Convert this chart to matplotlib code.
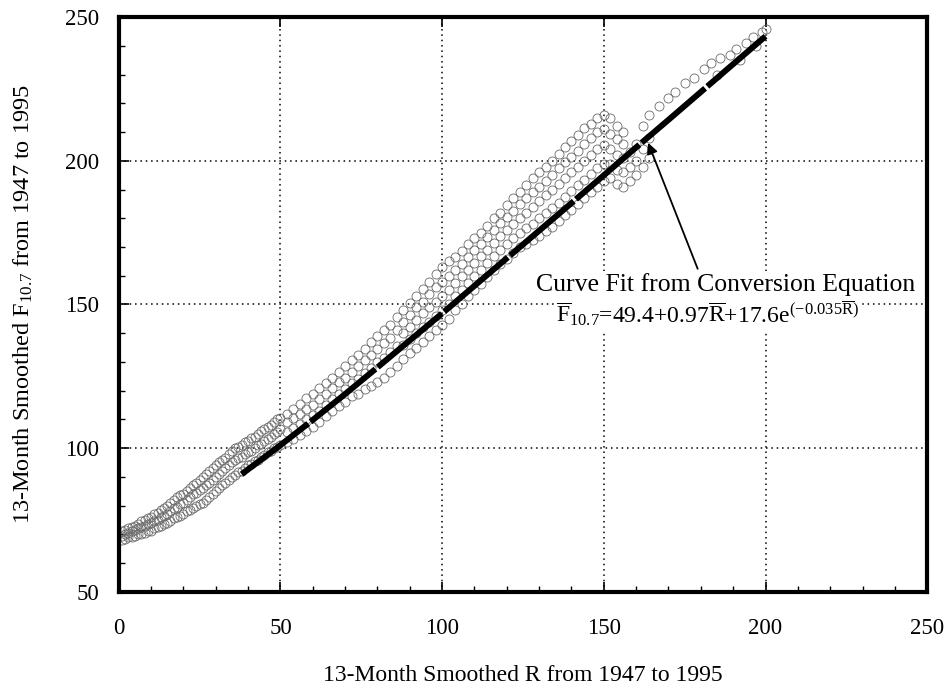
import matplotlib
matplotlib.use("Agg")
import matplotlib.pyplot as plt
from matplotlib.ticker import MultipleLocator

plt.rcParams["font.family"] = ["Liberation Serif", "DejaVu Serif"]
plt.rcParams["mathtext.fontset"] = "custom"
plt.rcParams["mathtext.rm"] = "Liberation Serif"
plt.rcParams["mathtext.it"] = "Liberation Serif:italic"

# observed 13-month smoothed values (R, F10.7), read off the picture as a band of points
# low activity part, R 1..50: lower / middle / upper edge of the band
R_low = list(range(1, 51))
F_low_lo = [68, 68.5, 69, 69, 69.5, 70, 70, 70.5, 71, 71, 72, 72.5, 73, 73.5, 74, 74.5, 75.5, 76, 76.5, 77,
            78, 78.5, 79, 80, 80.5, 81, 82, 83, 84, 85, 86, 87, 88, 89, 90, 90.5, 91.5, 92, 93, 94,
            94.5, 95.5, 96, 97, 97.5, 98.5, 99, 100, 100.5, 101]
F_low_md = [69.5, 70, 70.5, 71, 71.5, 72, 72.5, 73, 73.5, 74, 74.5, 75, 76, 76.5, 77, 78, 79, 79.5, 80.5, 81,
            82, 83, 84, 84.5, 85.5, 86, 87, 88, 89, 90, 91, 92, 93, 94, 95, 96, 96.5, 97, 98, 98.5,
            99, 100, 101, 101.5, 102.5, 103, 104, 105, 105.5, 106.5]
F_low_hi = [71, 71.5, 72, 72.5, 73, 73.5, 74.5, 75, 75.5, 76, 77, 77.5, 78.5, 79, 80, 81, 82, 83, 83.5, 84,
            85, 86, 87, 88, 89, 90, 91, 92, 93, 94, 95, 96, 96.5, 98, 99, 100, 100.5, 101, 102, 102.5,
            103.5, 104, 105, 106, 106.5, 107.5, 108, 109, 110, 110.5]

# rising part, R 52..86
R_mid = [52, 54, 56, 58, 60, 62, 64, 66, 68, 70, 72, 74, 76, 78, 80, 82, 84, 86]
F_mid_1 = [102, 103, 104.5, 106, 107.5, 109, 111, 113, 114.5, 116, 118, 119, 120.5, 121.5, 123, 124.5, 126.5, 128.5]
F_mid_2 = [105.5, 107, 108.5, 110, 111.5, 113, 115, 117, 119, 120.5, 122.5, 124, 126, 128, 130, 131.5, 133.5, 135.5]
F_mid_3 = [109, 110.5, 112, 113.5, 115, 117, 119, 121, 123, 124.5, 126.5, 128.5, 130.5, 132.5, 134.5, 136.5, 138.5, 141]
F_mid_4 = [112, 113.5, 115.5, 117.5, 119, 121, 122.5, 124.5, 126.5, 128.5, 130.5, 132.5, 134.5, 137, 139, 141, 143, 145.5]

# high activity part, R 88..156
R_high = [88, 90, 92, 94, 96, 98, 100, 102, 104, 106, 108, 110, 112, 114, 116, 118, 120, 122,
          124, 126, 128, 130, 132, 134, 136, 138, 140, 142, 144, 146, 148, 150, 152, 154, 156]
F_high_1 = [131, 133, 135, 137, 139, 141, 143, 145, 148, 150, 153, 155, 157, 159.5, 162, 164, 166, 168,
            170, 171, 172.5, 174, 175.5, 177, 179, 181, 183, 185, 187, 189, 191, 193, 194, 192, 191]
F_high_2 = [136, 138, 140, 142, 144, 146, 148, 150, 153, 155, 157.5, 160, 162, 164.5, 167, 169, 171, 173,
            175, 176.5, 178, 180, 182, 183.5, 185.5, 187.5, 189.5, 191.5, 193.5, 195.5, 197.5, 199, 199, 197, 196]
F_high_3 = [140, 142, 144.5, 147, 149, 151, 153, 155, 157.5, 160, 162, 164.5, 167, 169, 171.5, 174, 176, 178,
            180, 182, 184, 186, 188, 190, 192, 194, 196, 198, 200, 202, 204, 205.5, 204, 202, 201]
F_high_4 = [144, 146.5, 149, 151, 153.5, 156, 158, 160, 162, 164, 166.5, 169, 171, 173.5, 176, 178.5, 180.5, 182.5,
            185, 187, 189, 191, 193, 195, 197.5, 199.5, 201.5, 203.5, 206, 208, 210, 211, 209.5, 207.5, 206]
F_high_5 = [148, 150.5, 153, 155.5, 158, 160.5, 163, 165, 166.5, 168.5, 171, 173, 175, 177.5, 180, 182, 184.5, 187,
            189, 191.5, 194, 196, 198, 200, 202.5, 205, 207, 209, 211.5, 213, 215, 216, 215, 212, 210]

# sparse points near the top of the cycle maxima
R_top = [158, 158, 158, 160, 160, 160, 162, 162, 162, 164, 164, 164,
         167, 170, 172, 175, 178, 181, 183, 185, 186, 189, 191, 192, 194, 196, 197, 199, 200]
F_top = [193, 198, 203, 195, 200, 206, 198, 204, 212, 201, 208, 216,
         219, 222, 224, 227, 229, 232, 234, 230, 236, 237, 239, 235, 241, 243, 240, 245, 246]

# curve fit (conversion equation)
R_fit = [38, 50, 60, 70, 80, 90, 100, 110, 120, 130, 140, 150, 160, 170, 180, 190, 200]
F_fit = [90.9, 101.0, 109.8, 118.8, 128.1, 137.5, 146.9, 156.5, 166.1, 175.7, 185.3,
         195.0, 204.7, 214.3, 224.0, 233.7, 243.4]

fig = plt.figure(figsize=(9.5, 6.92), dpi=100)
ax = fig.add_axes([0.125, 0.145, 0.851, 0.83])

pts_R, pts_F = [], []
for Fs in (F_low_lo, F_low_md, F_low_hi):
    pts_R += R_low; pts_F += Fs
for Fs in (F_mid_1, F_mid_2, F_mid_3, F_mid_4):
    pts_R += R_mid; pts_F += Fs
for Fs in (F_high_1, F_high_2, F_high_3, F_high_4, F_high_5):
    pts_R += R_high; pts_F += Fs
pts_R += R_top; pts_F += F_top

ax.plot(pts_R, pts_F, ls="none", marker="o", ms=6.5, mfc="none", mec="#6a6a6a", mew=0.6, zorder=2)
ax.plot(R_fit, F_fit, color="black", lw=4.3, ls=(0, (14, 0.5)), zorder=3)

ax.set_xlim(0, 250)
ax.set_ylim(50, 250)
ax.xaxis.set_major_locator(MultipleLocator(50))
ax.yaxis.set_major_locator(MultipleLocator(50))
ax.xaxis.set_minor_locator(MultipleLocator(10))
ax.yaxis.set_minor_locator(MultipleLocator(10))
ax.tick_params(which="both", direction="in", top=True, right=False, color="black")
ax.tick_params(which="major", length=7, width=1.2, labelsize=16.5)
ax.tick_params(which="minor", length=4, width=1.0)
ax.tick_params(axis="y", which="both", right=False, pad=14)
ax.tick_params(axis="x", which="both", pad=19)
ax.tick_params(axis="x", which="minor", top=False)
ax.grid(which="major", color="black", ls=(0, (1, 2.5)), lw=1.1)
for s in ax.spines.values():
    s.set_linewidth(3)

ax.set_xlabel("13-Month Smoothed R from 1947 to 1995", fontsize=17, labelpad=19)
ax.set_ylabel(r"13-Month Smoothed F$_{10.7}$ from 1947 to 1995", fontsize=17.5, labelpad=22)

ax.annotate("Curve Fit from Conversion Equation", xy=(163.7, 206.3), xytext=(187.8, 156.8),
            ha="center", va="center", fontsize=18.5,
            bbox=dict(boxstyle="square,pad=0.08", fc="white", ec="none"),
            arrowprops=dict(arrowstyle="-|>", color="black", lw=1.3, mutation_scale=16,
                            relpos=(0.43, 1.0), shrinkA=2, shrinkB=0), zorder=5)
ax.text(182.2, 147.0, r"$\overline{\mathrm{F}}_{10.7}$=49.4+0.97$\overline{\mathrm{R}}$+17.6e$^{(-0.035\overline{\mathrm{R}})}$",
        ha="center", va="center", fontsize=17,
        bbox=dict(boxstyle="square,pad=0.08", fc="white", ec="none"), zorder=5)

fig.savefig("out.png", dpi=100)
